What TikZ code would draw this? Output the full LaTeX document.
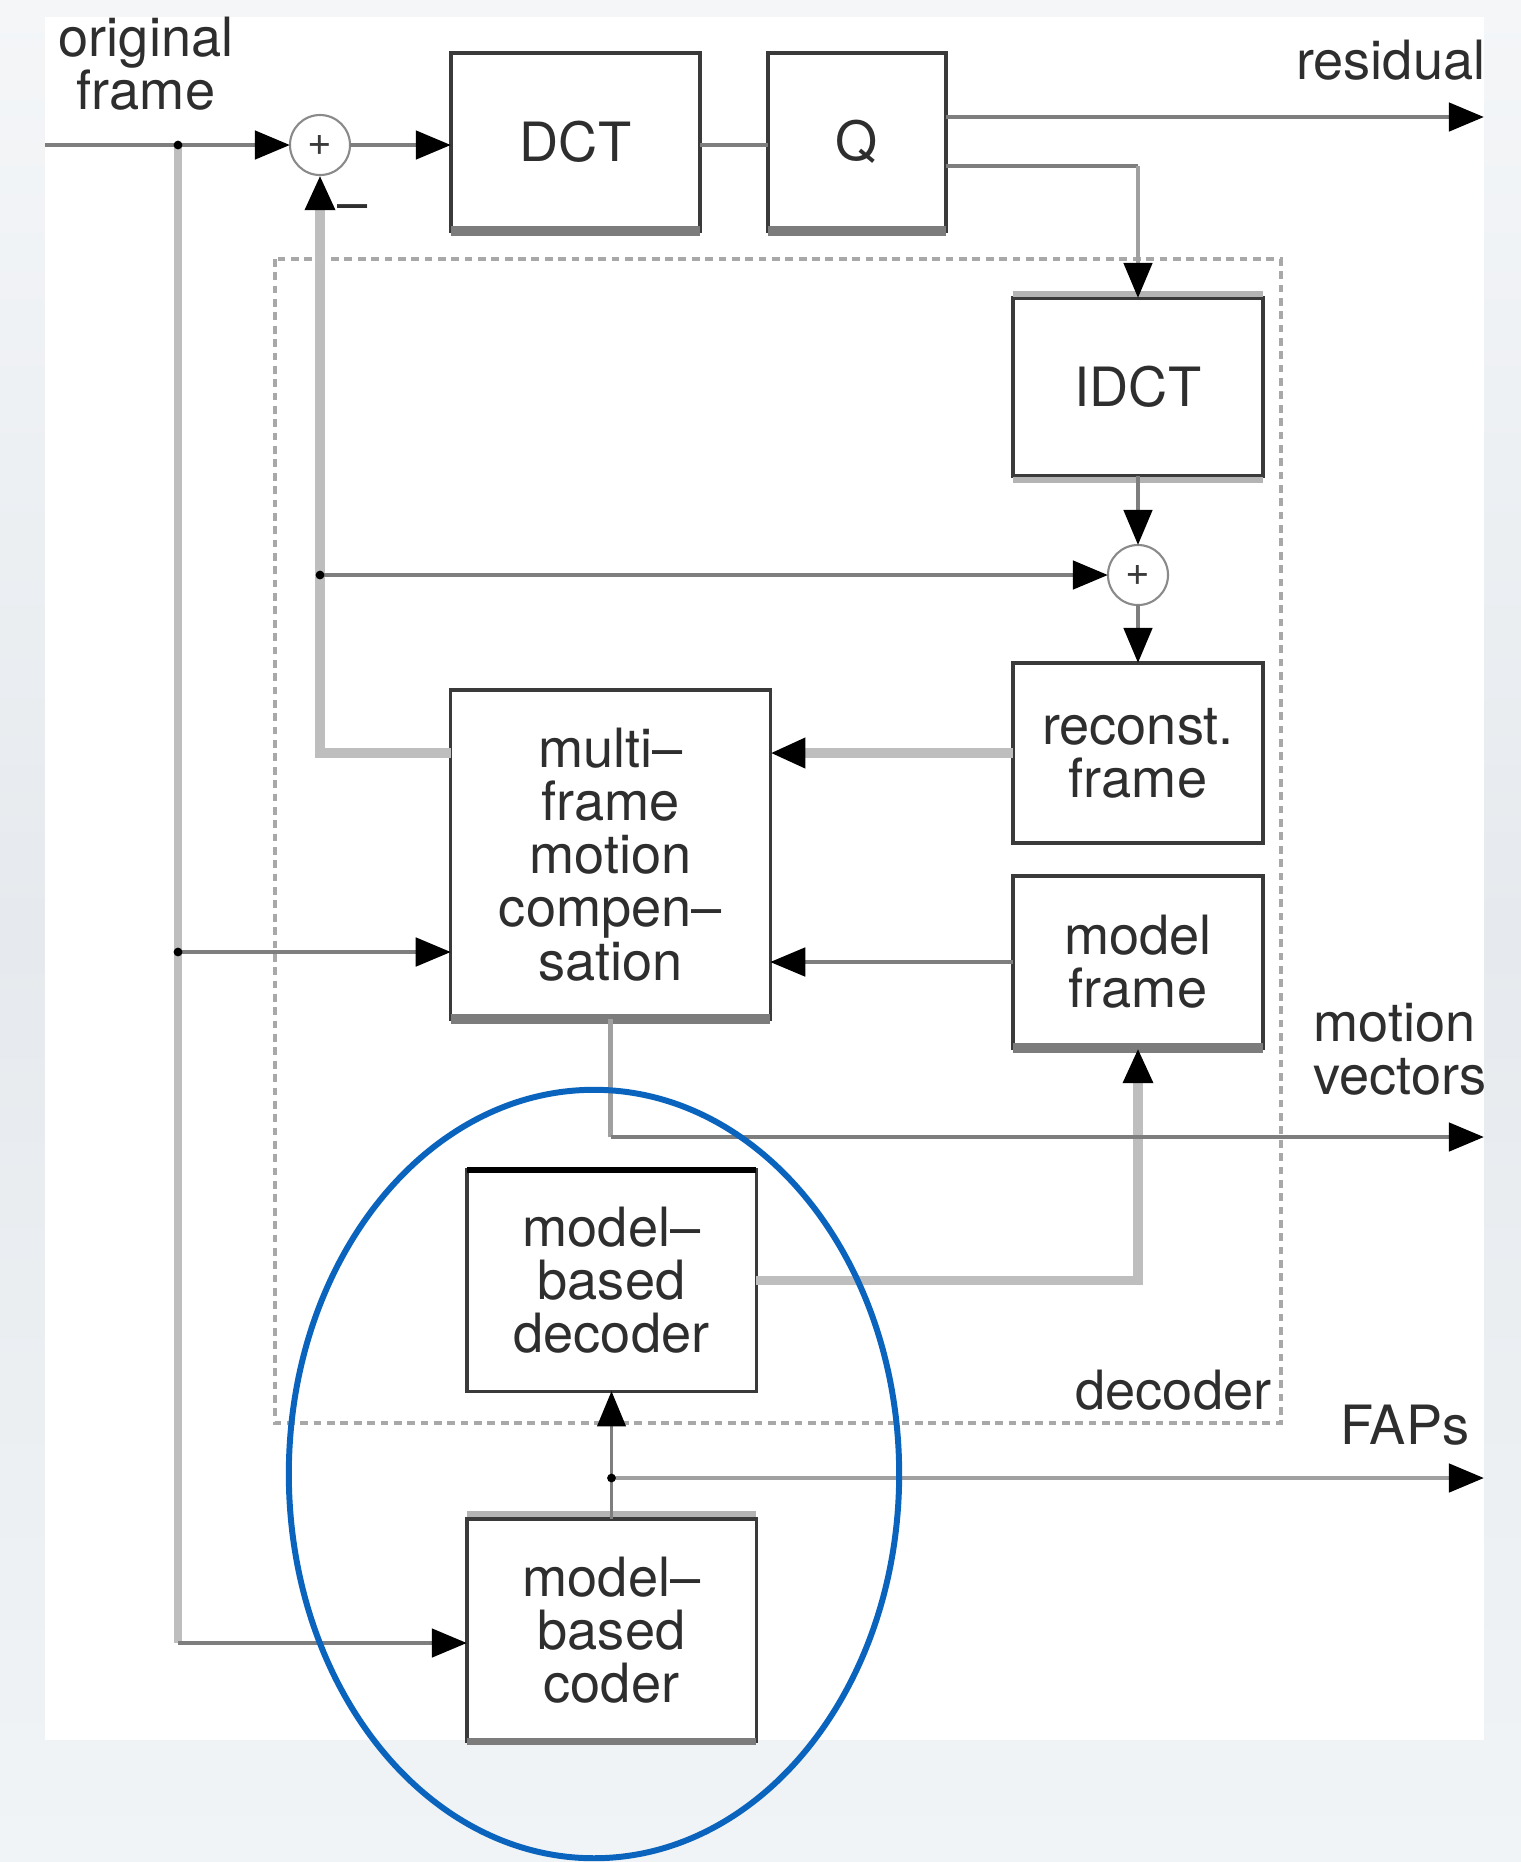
\documentclass[tikz,border=0pt]{standalone}
\usepackage{fontspec}
\setmainfont{TeX Gyre Heros}
\usetikzlibrary{arrows.meta}

\definecolor{boxc}{HTML}{3A3A3A}
\definecolor{wirec}{HTML}{7E7E7E}
\definecolor{midc}{HTML}{A0A0A0}
\definecolor{palec}{HTML}{BEBEBE}
\definecolor{txtc}{HTML}{2E2E2E}
\definecolor{sumc}{HTML}{8A8A8A}
\definecolor{stripc}{HTML}{7C7C7C}
\definecolor{lstripc}{HTML}{B4B4B4}
\definecolor{framec}{HTML}{A8A8A8}
\definecolor{ringc}{RGB}{10,100,190}
\definecolor{bgtop}{HTML}{F4F6F8}
\definecolor{bgmid}{HTML}{E6EAEE}
\definecolor{bgbot}{HTML}{F1F4F6}

\newcommand\diagfont{\fontsize{15.4}{15.1}\selectfont}

\begin{document}
\begin{tikzpicture}[x=0.01cm,y=-0.01cm,
  blk/.style={draw=boxc, line width=0.9pt, fill=white, inner sep=0pt, outer sep=0pt,
              align=center, font=\diagfont, text=txtc},
  sumnode/.style={circle, draw=sumc, line width=0.6pt, fill=white, minimum size=0.6cm,
              inner sep=0pt, outer sep=0pt, font=\fontsize{12}{12}\selectfont, text=boxc},
  lbl/.style={font=\diagfont, text=txtc, align=center, inner sep=0pt},
  wire/.style={draw=wirec, line width=1.3pt},
  midwire/.style={draw=midc, line width=1.3pt},
  pale/.style={draw=palec, line width=2.8pt},
  thinpale/.style={draw=palec, line width=2.2pt},
  tipped/.style={-{Triangle[length=10pt,width=8pt,color=black]}},
  jdot/.style={circle, fill=black, inner sep=0pt, minimum size=2.5pt},
  strip/.style={draw=stripc, line width=3pt},
  lstrip/.style={draw=lstripc, line width=1.8pt}]

\useasboundingbox (0,0) rectangle (1521,1862);
% page background and white sheet
\shade[top color=bgtop, bottom color=bgbot, middle color=bgmid] (0,0) rectangle (1521,1862);
\fill[white] (45,17) rectangle (1484,1740);

% decoder frame
\draw[framec, line width=0.9pt, dash pattern=on 2.2pt off 1.6pt] (275,259) rectangle (1281,1423);

% blocks
\node[blk, minimum width=2.49cm, minimum height=1.78cm] (dct) at (575.5,142) {DCT};
\node[blk, minimum width=1.78cm, minimum height=1.78cm] (quant) at (857,142) {Q};
\node[blk, minimum width=2.5cm, minimum height=1.78cm] (idct) at (1138,387) {IDCT};
\node[blk, minimum width=2.5cm, minimum height=1.8cm] (rec) at (1138,753) {reconst.\\frame};
\node[blk, minimum width=2.5cm, minimum height=1.72cm] (mfr) at (1138,962) {model\\frame};
\node[blk, minimum width=3.19cm, minimum height=3.29cm] (mc) at (610.5,854.5)
  {multi–\\frame\\motion\\compen–\\sation};
\node[blk, minimum width=2.89cm, minimum height=2.21cm] (mbd) at (611.5,1280.5)
  {model–\\based\\decoder};
\node[blk, minimum width=2.89cm, minimum height=2.22cm] (mbc) at (611.5,1630)
  {model–\\based\\coder};

% shaded box edges
\draw[strip] (dct.south west) -- (dct.south east);
\draw[strip] (quant.south west) -- (quant.south east);
\draw[strip] (mc.south west) -- (mc.south east);
\draw[strip] (mfr.south west) -- (mfr.south east);
\draw[strip, line width=2pt] (mbc.south west) -- (mbc.south east);
\draw[lstrip] ([yshift=1.2pt]idct.north west) -- ([yshift=1.2pt]idct.north east);
\draw[lstrip] ([yshift=-1.2pt]idct.south west) -- ([yshift=-1.2pt]idct.south east);
\draw[lstrip] ([yshift=1.4pt]mbc.north west) -- ([yshift=1.4pt]mbc.north east);
\draw[black, line width=1.5pt] (mbd.north west) -- (mbd.north east);

% adders
\node[sumnode] (sum1) at (320,145) {+};
\node[sumnode] (sum2) at (1138,575) {+};

% junction and end points
\coordinate (in0) at (45,145);
\coordinate (j1) at (178,145);
\coordinate (j2) at (320,575);
\coordinate (j3) at (178,952);
\coordinate (cin) at (178,1643);
\coordinate (res) at (1484,117);
\coordinate (qk) at (1138,166);
\coordinate (mv) at (1484,1137);
\coordinate (j4) at (611.5,1478);
\coordinate (fap) at (1484,1478);

% pale feedback and side paths
\draw[thinpale] (j1) -- (cin);
\draw[pale, tipped] (mc.west |- rec.west) -| (sum1.south);
\draw[pale, tipped] (rec.west) -- (rec.west -| mc.east);
\draw[pale, tipped] (mbd.east) -| (mfr.south);

% forward path
\draw[wire, tipped] (in0) -- (sum1.west);
\draw[wire, tipped] (sum1.east) -- (sum1.east -| dct.west);
\draw[wire] (dct.east |- sum1.east) -- (quant.west |- sum1.east);
\draw[wire, tipped] (quant.east |- res) -- (res);
\draw[wire] (quant.east |- qk) -- (qk);
\draw[midwire, tipped] (qk) -- (idct.north);
\draw[wire, tipped] (idct.south) -- (sum2.north);
\draw[wire, tipped] (sum2.south) -- (rec.north);
\draw[wire, tipped] (j2) -- (sum2.west);
\draw[wire, tipped] (j3) -- (j3 -| mc.west);
\draw[wire, tipped] (cin) -- (cin -| mbc.west);
\draw[wire, tipped] (mfr.west) -- (mfr.west -| mc.east);
\draw[midwire] (mc.south) -- (mc.south |- mv);
\draw[wire, tipped] (mc.south |- mv) -- (mv);
\draw[wire, line width=1pt, tipped] (mbc.north) -- (mbd.south);
\draw[midwire, tipped] (j4) -- (fap);

\foreach \p in {j1,j2,j3,j4} \node[jdot] at (\p) {};

% labels
\node[lbl] (minus) at (353,213) {–};
\node[lbl] (orig) at (146,64) {original\\frame};
\node[lbl] (fapl) at (1405,1425) {FAPs};
\node[lbl, anchor=east] (decl) at (1272,1390) {decoder};
\begin{scope}
  \clip (45,17) rectangle (1484,1740);
  \node[lbl, anchor=east] (resl) at (1486,60) {residual};
  \node[lbl, anchor=west, align=left] (mvl) at (1313,1049) {motion\\vectors};
\end{scope}

% highlight ring round the model-based coder and decoder
\draw[ringc, line width=1.7pt] (594,1474) ellipse [x radius=3.05cm, y radius=3.84cm];
\end{tikzpicture}
\end{document}
